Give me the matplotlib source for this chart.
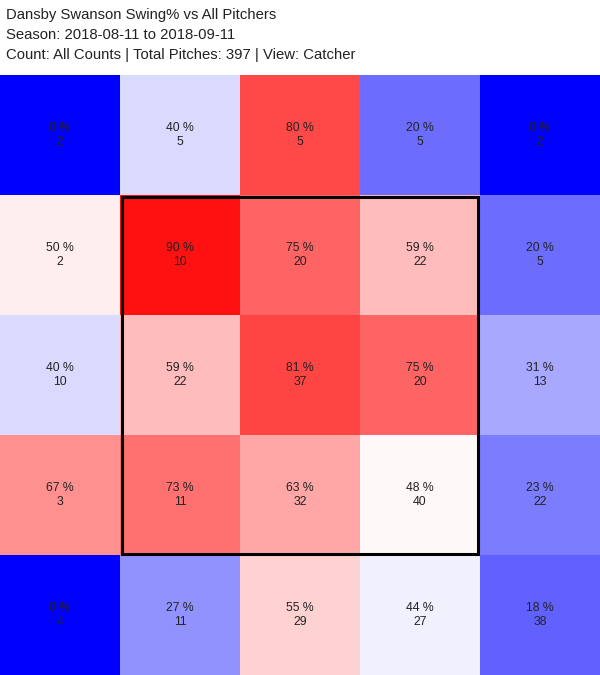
import numpy as np
import matplotlib
matplotlib.use('Agg')
import matplotlib.pyplot as plt
from matplotlib.colors import LinearSegmentedColormap, Normalize
from matplotlib.patches import Rectangle

# swing % per zone, rows top to bottom (catcher view)
swing_pct = [
    [0, 40, 80, 20, 0],
    [50, 90, 75, 59, 20],
    [40, 59, 81, 75, 31],
    [67, 73, 63, 48, 23],
    [0, 27, 55, 44, 18],
]
pitch_counts = [
    [2, 5, 5, 5, 2],
    [2, 10, 20, 22, 5],
    [10, 22, 37, 20, 13],
    [3, 11, 32, 40, 22],
    [4, 11, 29, 27, 38],
]
title_lines = [
    'Dansby Swanson Swing% vs All Pitchers',
    'Season: 2018-08-11 to 2018-09-11',
    'Count: All Counts | Total Pitches: 397 | View: Catcher',
]

plt.rcParams['font.family'] = ['Liberation Sans', 'DejaVu Sans']

pct = np.array(swing_pct, dtype=float)
cnt = np.array(pitch_counts)

cmap = LinearSegmentedColormap.from_list('bwr_zone', ['#0000ff', '#ffffff', '#ff0000'])
norm = Normalize(vmin=0, vmax=93.5)

fig = plt.figure(figsize=(6, 6.75), dpi=100)
ax = fig.add_axes([0, 0, 1, 600 / 675])
ax.imshow(pct, cmap=cmap, norm=norm, extent=(0, 5, 5, 0), aspect='auto',
          interpolation='nearest')
ax.set_xlim(0, 5)
ax.set_ylim(5, 0)
ax.axis('off')

for r in range(5):
    for c in range(5):
        ax.text(c + 0.5, r + 0.5, f'{int(pct[r, c])} %\n{cnt[r, c]}',
                ha='center', va='center', fontsize=8.8, color='#222222',
                linespacing=1.3)

# strike zone
inset = 0.0125
ax.add_patch(Rectangle((1 + inset, 1 + inset), 3 - 2 * inset, 3 - 2 * inset,
                       fill=False, edgecolor='black', linewidth=2.2))

for i, line in enumerate(title_lines):
    fig.text(6 / 600, 1 - (15.5 + i * 19.5) / 675, line, ha='left', va='center',
             fontsize=10.75, color='#222222')

fig.savefig('out.png', dpi=100)
